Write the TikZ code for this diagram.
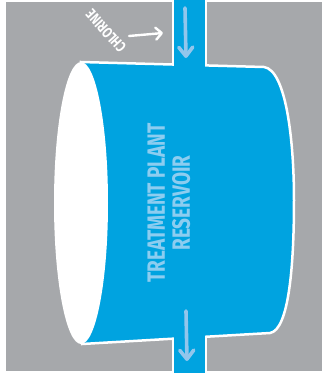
\documentclass[tikz,border=0pt]{standalone}
\usepackage{fontspec}
\usepackage{xcolor,tikz}
\usetikzlibrary{arrows.meta}
\newfontfamily\signfont[FakeStretch=0.76]{Fira Sans}
\definecolor{tankblue}{HTML}{00A3E0}
\definecolor{bggray}{HTML}{A6A8AB}
\definecolor{labelblue}{HTML}{8CCDF0}
\definecolor{flowblue}{HTML}{92C6EC}

\begin{document}
\begin{tikzpicture}[x=1pt,y=-1pt,every node/.style={inner sep=0pt},
  rim/.style={draw=white,line width=2.5pt},
  flow/.style={draw=flowblue,line width=3.6pt,line cap=round,-{Straight Barb[length=9pt,width=14pt,round]}}]
\useasboundingbox (0,0) rectangle (323,373);
\fill[bggray] (6,2) rectangle (322,371);
\path[fill=tankblue,rim] (81,62) -- (264,67) .. controls (286,70) and (294,140) .. (294,200) .. controls (294,265) and (289,330) .. (270,333) -- (82,344) -- cycle;
\fill[white] (81,203) ellipse [x radius=27,y radius=141];
\fill[tankblue] (174,-1) rectangle (205,68);\draw[rim] (173,-1)--(173,65);\draw[rim] (206,-1)--(206,65.4);
\fill[tankblue] (174,334) rectangle (205,374);\draw[rim] (173,338.7)--(173,374);\draw[rim] (206,336.7)--(206,374);
\coordinate (inTop) at (185,8);\coordinate (inEnd) at (186,58);
\coordinate (outTop) at (186,311);\coordinate (outEnd) at (187,361);
\draw[flow] (inTop)--(inEnd);\draw[flow] (outTop)--(outEnd);
\coordinate (clA) at (129,36);\coordinate (clB) at (163,33);
\draw[white,line width=2.4pt,line cap=round,-{Straight Barb[length=6pt,width=12pt,round]}] (clA)--(clB);
\node[text=white,rotate=132,font=\signfont\bfseries\fontsize{15}{15}\selectfont] (chlorine) at (106,31) {CHLORINE};
\node[text=labelblue,rotate=90,align=center,font=\signfont\bfseries\fontsize{25}{25}\selectfont] (tank) at (169,203) {TREATMENT PLANT\\RESERVOIR};
\end{tikzpicture}
\end{document}
